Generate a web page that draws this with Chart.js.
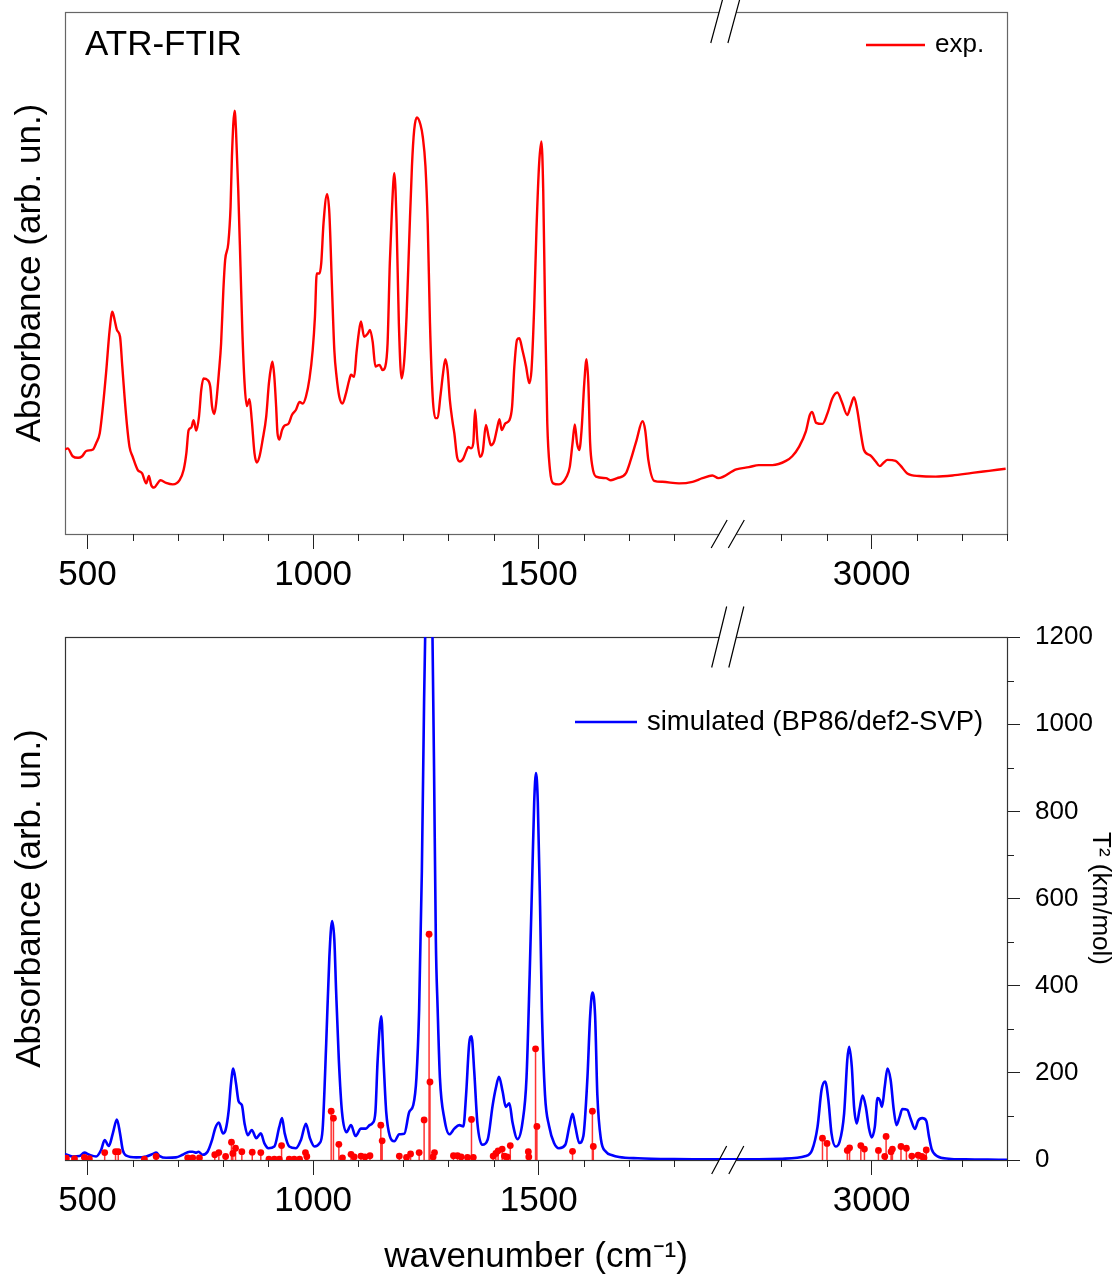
<!DOCTYPE html>
<html>
<head>
<meta charset="utf-8">
<script src="https://cdn.jsdelivr.net/npm/chart.js@4.4.1/dist/chart.umd.min.js"></script>
<style>
  html, body { margin: 0; padding: 0; background: #fff; }
  #cTop { position: absolute; left: 0; top: 0; }
  #cBot { position: absolute; left: 0; top: 600px; }
</style>
</head>
<body>
<canvas id="cTop" width="1117" height="600"></canvas>
<canvas id="cBot" width="1117" height="679"></canvas>
<script>
// experimental ATR-FTIR spectrum (wavenumber in cm-1, absorbance arb. un.)
var expWn = [450, 456, 467, 479, 488, 497, 512, 519, 527, 534, 541, 549, 555, 560, 565, 572, 577, 582, 587, 593,
  600, 611, 621, 630, 636, 641, 647, 662, 674, 689, 704, 713, 719, 724, 730, 735, 741, 747, 752, 757,
  766, 772, 776, 781, 785, 791, 796, 801, 805, 812, 817, 820, 826, 829, 834, 839, 843, 848, 853, 859,
  864, 870, 875, 881, 888, 896, 902, 907, 910, 914, 918, 921, 925, 931, 936, 946, 953, 962, 970, 977,
  984, 992, 999, 1004, 1008, 1014, 1018, 1023, 1031, 1036, 1042, 1047, 1052, 1058, 1065, 1073, 1080, 1084, 1091, 1096,
  1101, 1106, 1113, 1121, 1126, 1132, 1138, 1147, 1154, 1160, 1165, 1170, 1175, 1180, 1185, 1190, 1196, 1202, 1207, 1213,
  1219, 1224, 1230, 1238, 1243, 1249, 1254, 1259, 1265, 1271, 1276, 1282, 1288, 1293, 1298, 1303, 1309, 1313, 1319, 1325,
  1333, 1339, 1344, 1350, 1355, 1359, 1364, 1370, 1376, 1383, 1389, 1394, 1401, 1407, 1413, 1418, 1426, 1435, 1441, 1446,
  1452, 1457, 1464, 1472, 1479, 1484, 1490, 1495, 1501, 1506, 1510, 1514, 1519, 1525, 1532, 1545, 1562, 1569, 1575, 1580,
  1585, 1590, 1595, 1601, 1606, 1610, 1614, 1619, 1627, 1649, 1660, 1674, 1693, 1704, 1717, 1730, 1736, 1743, 1756, 1774,
  1811, 1841, 1863, 1885, 1898,
  2697, 2728, 2750, 2780, 2810, 2824, 2839, 2854, 2863, 2868, 2877, 2891, 2902, 2913, 2924, 2934, 2946, 2953, 2961, 2968,
  2976, 2983, 2998, 3009, 3018, 3027, 3035, 3053, 3064, 3079, 3105, 3142, 3179, 3223, 3260, 3297];
var expAbs = [.162, .164, .149, .146, .149, .159, .162, .174, .193, .244, .308, .391, .426, .410, .391, .378, .321, .263, .212, .167,
  .148, .123, .116, .097, .111, .094, .089, .103, .098, .095, .103, .123, .155, .199, .204, .218, .198, .225, .276, .298,
  .295, .282, .244, .230, .250, .308, .365, .467, .525, .557, .627, .723, .811, .774, .659, .512, .391, .289, .245, .258,
  .218, .155, .137, .148, .180, .225, .289, .321, .330, .301, .244, .193, .181, .199, .207, .212, .228, .238, .253, .250,
  .263, .298, .352, .416, .499, .499, .519, .595, .651, .614, .467, .352, .301, .263, .250, .270, .295, .305, .301, .346,
  .384, .407, .378, .384, .391, .368, .321, .324, .314, .321, .365, .519, .627, .691, .595, .404, .298, .333, .416, .563,
  .704, .774, .798, .784, .761, .704, .595, .404, .263, .222, .222, .263, .308, .335, .314, .257, .215, .193, .148, .139,
  .145, .158, .167, .164, .174, .238, .180, .148, .158, .209, .186, .170, .177, .199, .220, .199, .212, .218, .244, .321,
  .372, .375, .352, .321, .289, .314, .435, .582, .710, .752, .659, .435, .212, .123, .097, .095, .110, .129, .174, .210,
  .174, .161, .199, .289, .335, .289, .174, .129, .110, .107, .103, .107, .116, .142, .180, .216, .199, .142, .102, .100,
  .097, .100, .107, .112, .107,
  .124, .128, .132, .132, .140, .149, .167, .196, .228, .234, .213, .211, .231, .260, .271, .253, .228, .244, .262, .238,
  .193, .161, .150, .139, .130, .137, .142, .140, .131, .116, .111, .110, .112, .117, .121, .125];

// simulated spectrum (BP86/def2-SVP), arb. un. on the 0-1200 scale
var simWn = [450, 467, 482, 493, 504, 519, 530, 538, 547, 556, 565, 572, 578, 586, 608, 630, 645, 652, 660, 674,
  696, 711, 726, 733, 741, 746, 755, 766, 776, 783, 791, 800, 806, 813, 818, 823, 829, 835, 842, 848,
  855, 864, 874, 884, 892, 901, 914, 925, 931, 937, 947, 962, 973, 984, 993, 1003, 1014, 1021, 1029, 1036,
  1042, 1047, 1051, 1057, 1064, 1074, 1084, 1094, 1106, 1117, 1125, 1132, 1138, 1143, 1151, 1156, 1162, 1170, 1180, 1191,
  1202, 1213, 1222, 1229, 1235, 1241, 1246, 1250, 1254, 1257, 1260, 1264, 1268, 1272, 1276, 1281, 1291, 1302, 1313, 1324,
  1333, 1339, 1346, 1351, 1357, 1364, 1375, 1387, 1398, 1405, 1412, 1420, 1427, 1435, 1442, 1453, 1464, 1473, 1480, 1486,
  1490, 1494, 1498, 1503, 1507, 1514, 1523, 1534, 1545, 1559, 1568, 1575, 1581, 1590, 1599, 1608, 1614, 1619, 1625, 1630,
  1638, 1649, 1663, 1678, 1720, 1800, 1900,
  2700, 2802, 2854, 2868, 2880, 2889, 2897, 2904, 2911, 2920, 2929, 2939, 2946, 2950, 2956, 2961, 2967, 2973, 2980, 2987,
  2994, 3000, 3007, 3013, 3018, 3023, 3029, 3035, 3042, 3049, 3055, 3062, 3068, 3079, 3086, 3096, 3103, 3112, 3121, 3127,
  3133, 3145, 3171, 3208, 3282, 3300];
var simAbs = [14, 8, 9, 17, 12, 8, 23, 46, 32, 61, 93, 61, 23, 10, 6, 8, 14, 17, 9, 5,
  6, 12, 19, 19, 17, 19, 12, 19, 46, 73, 86, 61, 69, 115, 176, 210, 176, 134, 126, 84,
  57, 69, 50, 61, 38, 27, 31, 76, 96, 61, 31, 27, 46, 83, 50, 31, 38, 70, 268, 466,
  548, 505, 386, 229, 110, 64, 80, 55, 72, 72, 80, 85, 110, 229, 330, 229, 110, 55, 43, 59,
  60, 110, 126, 189, 347, 663, 1058, 1300, 1520, 1560, 1500, 1250, 900, 505, 347, 189, 94, 59, 72, 80,
  77, 149, 268, 284, 205, 86, 35, 47, 126, 165, 191, 157, 122, 130, 86, 48, 86, 189, 426, 663,
  821, 888, 821, 584, 347, 149, 78, 39, 27, 35, 78, 106, 78, 39, 55, 189, 331, 384, 331, 149,
  47, 19, 11, 7, 4, 2, 1.5,
  1.5, 3, 9, 23, 76, 161, 180, 138, 61, 31, 42, 107, 230, 260, 214, 122, 84, 115, 148, 122,
  73, 52, 76, 142, 138, 122, 168, 210, 184, 115, 80, 99, 117, 115, 96, 71, 90, 96, 90, 54,
  25, 9, 3, 1.5, 0.7, 0.5];

// computed transitions, T^2 in km/mol
var stickWn = [453, 471, 493, 504, 538, 562, 568, 626, 652, 722, 733, 748, 782, 791, 806, 819, 822, 828, 842, 865,
  884, 902, 914, 925, 930, 947, 958, 970, 983, 986, 1040, 1045, 1057, 1065, 1084, 1091, 1106, 1115, 1126, 1150,
  1153, 1191, 1207, 1216, 1235, 1246, 1257, 1259, 1266, 1269, 1311, 1320, 1328, 1342, 1351, 1355, 1399, 1405, 1410, 1419,
  1424, 1430, 1437, 1477, 1478, 1493, 1496, 1575, 1619, 1621,
  2891, 2901, 2946, 2951, 2976, 2984, 3015, 3029, 3032, 3043, 3046, 3065, 3077, 3089, 3103, 3111, 3116, 3121];
var stickT2 = [4, 3, 6, 3, 17, 19, 19, 2, 8, 5, 5, 5, 12, 17, 8, 41, 15, 27, 19, 18,
  17, 2, 2, 2, 33, 2, 2, 2, 17, 8, 112, 96, 36, 5, 13, 7, 9, 7, 10, 80,
  44, 9, 6, 14, 17, 92, 518, 179, 7, 17, 10, 10, 7, 6, 93, 6, 9, 15, 21, 25,
  9, 7, 33, 19, 7, 255, 77, 20, 112, 31,
  50, 38, 22, 28, 33, 25, 22, 8, 54, 19, 25, 31, 27, 9, 11, 8, 5, 23];

// axis ticks
var majorTicks = [500, 1000, 1500, 3000];
var minorTicks = [600, 700, 800, 900, 1100, 1200, 1300, 1400, 1600, 1700, 1800, 2800, 2900, 3100, 3200, 3300];
var t2Ticks = [0, 200, 400, 600, 800, 1000, 1200];
var t2Minor = [100, 300, 500, 700, 900, 1100];

// broken axis: 1900..2700 is squeezed into a small gap
var BREAK_LO = 1900, BREAK_HI = 2700, GAP = 38;
function axisPos(wn) {
    if (wn <= BREAK_LO) return wn;
    if (wn >= BREAK_HI) return wn - (BREAK_HI - BREAK_LO) + GAP;
    return BREAK_LO + (wn - BREAK_LO) * GAP / (BREAK_HI - BREAK_LO);
}
function wnOf(p) {
    if (p <= BREAK_LO) return p;
    return p + (BREAK_HI - BREAK_LO) - GAP;
}

function toPoints(wns, vals, cutGap) {
    var out = [];
    for (var i = 0; i < wns.length; i++) {
        if (cutGap && i > 0 && wns[i - 1] < BREAK_LO && wns[i] > BREAK_HI) {
            out.push({ x: axisPos(BREAK_LO), y: null });
        }
        out.push({ x: axisPos(wns[i]), y: vals[i] });
    }
    return out;
}

var FONT = '"Liberation Sans", Arial, Helvetica, sans-serif';
Chart.defaults.font.family = FONT;
Chart.defaults.color = '#000';

function xScale(canvasH, plotBottom, withTitle) {
    return {
        type: 'linear',
        min: axisPos(450),
        max: axisPos(3300),
        offset: false,
        afterBuildTicks: function (s) { s.ticks = majorTicks.map(function (v) { return { value: axisPos(v) }; }); },
        afterFit: function (s) { s.height = canvasH - plotBottom; },
        ticks: {
            autoSkip: false, maxRotation: 0, padding: 5, color: '#000',
            font: { size: 35 },
            callback: function (v) { return String(Math.round(wnOf(v))); }
        },
        grid: { drawOnChartArea: false, drawTicks: true, tickLength: 15, color: '#222', lineWidth: 1 },
        border: { display: false },
        title: {
            display: withTitle, text: 'wavenumber (cm\u207B\u00B9)', color: '#000',
            font: { size: 35 }, padding: { top: 0, bottom: 1 }
        }
    };
}

function absAxis(max) {
    return {
        type: 'linear', position: 'left', min: 0, max: max,
        ticks: { display: false },
        grid: { display: false },
        border: { display: false },
        afterFit: function (s) { s.width = 65; },
        title: {
            display: true, text: 'Absorbance (arb. un.)', color: '#000',
            font: { size: 35 }, padding: { top: 9, bottom: 0 }
        }
    };
}

// frame, broken-axis marks, minor ticks and in-plot texts
function decor(opt) {
    return {
        id: 'decor',
        beforeDatasetsDraw: function (chart) {
            var ctx = chart.ctx, a = chart.chartArea, xs = chart.scales.x;
            var x1 = xs.getPixelForValue(axisPos(BREAK_LO)), x2 = xs.getPixelForValue(axisPos(BREAK_HI));
            ctx.save();
            ctx.strokeStyle = opt.frame;
            ctx.lineWidth = 1.2;
            ctx.strokeRect(Math.round(a.left) + 0.5, Math.round(a.top) + 0.5,
                Math.round(a.right - a.left), Math.round(a.bottom - a.top));
            ctx.fillStyle = '#fff';
            ctx.fillRect(x1, a.top - 2, x2 - x1, 4);
            ctx.fillRect(x1, a.bottom - 2, x2 - x1, 4);
            ctx.restore();
        },
        afterDraw: function (chart) {
            var ctx = chart.ctx, a = chart.chartArea, xs = chart.scales.x;
            var x1 = xs.getPixelForValue(axisPos(BREAK_LO)), x2 = xs.getPixelForValue(axisPos(BREAK_HI));
            ctx.save();
            // minor ticks
            ctx.strokeStyle = '#222';
            ctx.lineWidth = 1;
            ctx.beginPath();
            minorTicks.forEach(function (wn) {
                var x = Math.round(xs.getPixelForValue(axisPos(wn))) + 0.5;
                ctx.moveTo(x, a.bottom);
                ctx.lineTo(x, a.bottom + 7);
            });
            if (chart.scales.y2) {
                var ys = chart.scales.y2;
                t2Minor.forEach(function (v) {
                    var y = Math.round(ys.getPixelForValue(v)) + 0.5;
                    ctx.moveTo(a.right, y);
                    ctx.lineTo(a.right + 7, y);
                });
            }
            ctx.stroke();
            // break marks
            ctx.strokeStyle = '#000';
            ctx.lineWidth = 1.2;
            ctx.beginPath();
            [[a.top, opt.topH, opt.topDx], [a.bottom, opt.botH, opt.botDx]].forEach(function (e) {
                [x1, x2].forEach(function (xc) {
                    ctx.moveTo(xc - e[2], e[0] + e[1]);
                    ctx.lineTo(xc + e[2], e[0] - e[1]);
                });
            });
            ctx.stroke();
            // texts and legend
            ctx.fillStyle = '#000';
            ctx.textBaseline = 'middle';
            ctx.textAlign = 'left';
            (opt.texts || []).forEach(function (t) {
                ctx.font = t.size + 'px ' + FONT;
                ctx.fillText(t.text, t.x, t.y);
            });
            var lg = opt.legend;
            ctx.strokeStyle = lg.color;
            ctx.lineWidth = 2.4;
            ctx.beginPath();
            ctx.moveTo(lg.x1, lg.y);
            ctx.lineTo(lg.x2, lg.y);
            ctx.stroke();
            ctx.font = lg.size + 'px ' + FONT;
            ctx.fillText(lg.text, lg.x2 + 10, lg.y);
            ctx.restore();
        }
    };
}

// top panel: experiment
new Chart(document.getElementById('cTop'), {
    type: 'line',
    data: {
        datasets: [{
            data: toPoints(expWn, expAbs, true),
            borderColor: '#ff0000', borderWidth: 2.4, pointRadius: 0,
            cubicInterpolationMode: 'monotone', spanGaps: false
        }]
    },
    options: {
        responsive: false, animation: false, devicePixelRatio: 1,
        layout: { padding: { top: 12, right: 110, left: 0, bottom: 0 } },
        plugins: { legend: { display: false }, tooltip: { enabled: false } },
        scales: {
            x: xScale(600, 534, false),
            y: absAxis(1)
        }
    },
    plugins: [decor({
        frame: '#666', topH: 31, topDx: 8.4, botH: 14, botDx: 8,
        texts: [{ text: 'ATR-FTIR', x: 85, y: 45, size: 35 }],
        legend: { x1: 866, x2: 925, y: 45, color: '#ff0000', text: 'exp.', size: 26 }
    })]
});

// bottom panel: simulation and stick spectrum
var stems = [];
stickWn.forEach(function (wn, i) {
    var p = axisPos(wn);
    stems.push({ x: p, y: 0 }, { x: p, y: stickT2[i] }, { x: p, y: null });
});

var y2 = {
    type: 'linear', position: 'right', min: 0, max: 1200,
    afterBuildTicks: function (s) { s.ticks = t2Ticks.map(function (v) { return { value: v }; }); },
    afterFit: function (s) { s.width = 110; },
    ticks: { padding: 15, color: '#000', font: { size: 26 }, callback: function (v) { return String(v); } },
    grid: { drawOnChartArea: false, drawTicks: true, tickLength: 13, color: '#222', lineWidth: 1 },
    border: { display: false },
    title: { display: true, text: 'T\u00B2 (km/mol)', color: '#000', font: { size: 26 }, padding: { top: 1, bottom: 0 } }
};

new Chart(document.getElementById('cBot'), {
    type: 'line',
    data: {
        datasets: [{
            data: toPoints(stickWn, stickT2, false), yAxisID: 'y2', order: 0,
            showLine: false, pointRadius: 3.4, pointBackgroundColor: '#ff0000', pointBorderWidth: 0
        }, {
            data: stems, yAxisID: 'y2', order: 1,
            borderColor: 'rgba(255,0,0,0.8)', borderWidth: 1.5, pointRadius: 0, tension: 0, spanGaps: false
        }, {
            data: toPoints(simWn, simAbs, false), yAxisID: 'y', order: 2,
            borderColor: '#0000ff', borderWidth: 2.6, pointRadius: 0, cubicInterpolationMode: 'monotone'
        }]
    },
    options: {
        responsive: false, animation: false, devicePixelRatio: 1,
        layout: { padding: { top: 37, right: 0, left: 0, bottom: 0 } },
        plugins: { legend: { display: false }, tooltip: { enabled: false } },
        scales: {
            x: xScale(679, 560, true),
            y: absAxis(1200),
            y2: y2
        }
    },
    plugins: [decor({
        frame: '#333', topH: 30.5, topDx: 7.5, botH: 14, botDx: 7.5,
        texts: [],
        legend: { x1: 575, x2: 637, y: 122, color: '#0000ff', text: 'simulated (BP86/def2-SVP)', size: 27.5 }
    })]
});
</script>
</body>
</html>
